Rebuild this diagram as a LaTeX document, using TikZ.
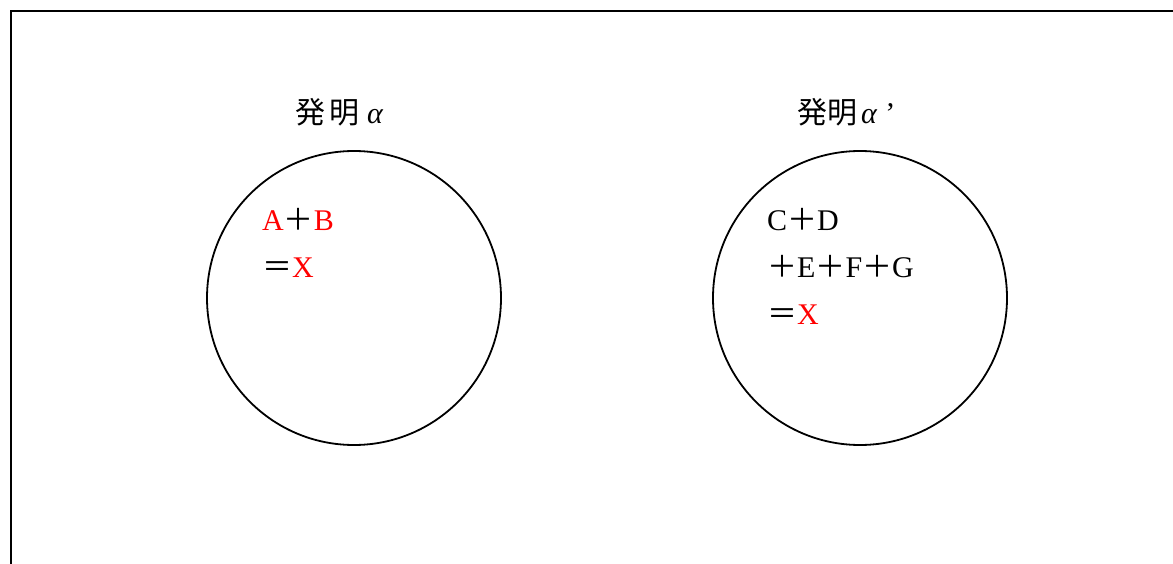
\documentclass[tikz,border=0pt]{standalone}
\usepackage{fontspec}
\setmainfont{Liberation Serif}
\newfontfamily\jpfont{Noto Sans CJK JP}
\newcommand{\zplus}{{\jpfont ＋}}
\newcommand{\zeq}{{\jpfont ＝}}
\tikzset{
  label text/.style={inner sep=0pt, anchor=base west, font=\fontsize{30}{36}\selectfont},
  invention/.style={draw, circle, line width=1.8pt, minimum size=294pt, inner sep=0pt}
}

\begin{document}
\begin{tikzpicture}[x=1pt,y=-1pt]
            \useasboundingbox (0,0) rectangle (1173,564);

            % Frame
            \coordinate (frameBL) at (11,564);
            \coordinate (frameTL) at (11,11);
            \coordinate (frameTR) at (1173,11);
            \draw[line width=2pt] (frameBL) -- (frameTL) -- (frameTR);

            % Left invention
            \node[invention] (alpha) at (354,298) {};
            \node[label text] (alphaTitle) at (295,124) {{\jpfont 発\hspace{4pt}明}\hspace{8pt}\textit{α}};
            \node[label text] (alphaL1) at (262,231) {\textcolor{red}{A}\zplus\textcolor{red}{B}};
            \node[label text] (alphaL2) at (262,277) {\zeq\textcolor{red}{X}};

            % Right invention
            \node[invention] (alphaP) at (860,298) {};
            \node[label text] (alphaPTitle) at (797,124) {{\jpfont 発明}\hspace{4pt}\textit{α}\hspace{8pt}’};
            \node[label text] (alphaPL1) at (767,231) {C\zplus D};
            \node[label text] (alphaPL2) at (767,277) {\zplus E\zplus F\zplus G};
            \node[label text] (alphaPL3) at (767,324) {\zeq\textcolor{red}{X}};
        \end{tikzpicture}
\end{document}
